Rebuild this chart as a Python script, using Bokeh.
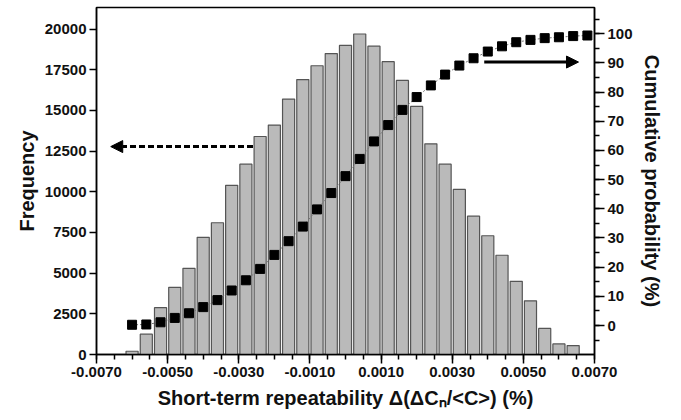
from bokeh.plotting import figure
from bokeh.models import (Range1d, LinearAxis, FixedTicker, Arrow, NormalHead,
                          NumeralTickFormatter)
from bokeh.embed import file_html
from bokeh.resources import INLINE

# Histogram bins (centre of each bin) and counts
bin_centers = [-0.0060, -0.0056, -0.0052, -0.0048, -0.0044, -0.0040, -0.0036, -0.0032,
               -0.0028, -0.0024, -0.0020, -0.0016, -0.0012, -0.0008, -0.0004, 0.0000,
               0.0004, 0.0008, 0.0012, 0.0016, 0.0020, 0.0024, 0.0028, 0.0032,
               0.0036, 0.0040, 0.0044, 0.0048, 0.0052, 0.0056, 0.0060, 0.0064]
frequency = [200, 1250, 2880, 4130, 5300, 7200, 8100, 10400,
             11700, 13400, 14100, 15700, 16900, 17750, 18500, 19000,
             19700, 18950, 18000, 16850, 15250, 12950, 11700, 10150,
             8500, 7300, 6100, 4500, 3300, 1600, 650, 550]

# Cumulative probability (%)
cum_x = [-0.0060, -0.0056, -0.0052, -0.0048, -0.0044, -0.0040, -0.0036, -0.0032,
         -0.0028, -0.0024, -0.0020, -0.0016, -0.0012, -0.0008, -0.0004, 0.0000,
         0.0004, 0.0008, 0.0012, 0.0016, 0.0020, 0.0024, 0.0028, 0.0032,
         0.0036, 0.0040, 0.0044, 0.0048, 0.0052, 0.0056, 0.0060, 0.0064, 0.0068]
cum_pct = [0.25, 0.35, 1.1, 2.6, 4.2, 6.3, 8.7, 12.0,
           15.5, 19.4, 24.2, 28.9, 33.9, 39.8, 45.4, 51.2,
           57.1, 63.1, 68.7, 73.9, 78.3, 82.3, 86.0, 89.1,
           91.6, 93.9, 95.7, 97.1, 97.9, 98.5, 98.8, 99.2, 99.4]

x_ticks = [-0.007, -0.005, -0.003, -0.001, 0.001, 0.003, 0.005, 0.007]
y_ticks = [0, 2500, 5000, 7500, 10000, 12500, 15000, 17500, 20000]
cum_ticks = [0, 10, 20, 30, 40, 50, 60, 70, 80, 90, 100]

FONT = "Liberation Sans"

p = figure(width=681, height=420, output_backend="svg", toolbar_location=None,
           x_range=Range1d(-0.007, 0.007), y_range=Range1d(0, 21330),
           min_border_left=96, min_border_right=87, min_border_top=7,
           min_border_bottom=66, background_fill_color="white",
           border_fill_color="white")
p.xgrid.visible = False
p.ygrid.visible = False
p.outline_line_color = "black"
p.outline_line_width = 1.5
p.outline_line_alpha = 1

p.extra_y_ranges = {"cum": Range1d(-9.94, 109.0)}

p.vbar(x=bin_centers, top=frequency, width=0.00034, bottom=0,
       fill_color="#bababa", line_color="#555555", line_width=1.2)

p.line(cum_x, cum_pct, y_range_name="cum", line_color="#777777",
       line_width=1, line_dash="2 2")
p.scatter(cum_x, cum_pct, y_range_name="cum", marker="square", size=9,
          fill_color="black", line_color="black")

# Arrows pointing to the relevant axes
p.add_layout(Arrow(x_start=-0.0026, y_start=12780, x_end=-0.0066, y_end=12780,
                   line_width=3, line_dash="6 3", line_color="black",
                   end=NormalHead(size=12, fill_color="black", line_color="black")))
p.add_layout(Arrow(x_start=0.0039, y_start=90.3, x_end=0.00655, y_end=90.3,
                   y_range_name="cum", line_width=3, line_color="black",
                   end=NormalHead(size=12, fill_color="black", line_color="black")))

def style(ax):
    ax.axis_line_color = "black"
    ax.axis_line_width = 1.5
    ax.major_tick_line_color = "black"
    ax.major_tick_line_width = 1.5
    ax.minor_tick_line_color = "black"
    ax.minor_tick_line_width = 1.5
    ax.major_tick_in = 0
    ax.minor_tick_in = 0
    ax.major_label_text_font = FONT
    ax.major_label_text_font_style = "bold"
    ax.major_label_text_font_size = "15px"
    ax.major_label_text_color = "#111111"
    ax.axis_label_text_font = FONT
    ax.axis_label_text_font_style = "bold"
    ax.axis_label_text_font_size = "20px"
    ax.axis_label_text_color = "#111111"

xa = p.xaxis[0]
style(xa)
xa.ticker = FixedTicker(ticks=x_ticks,
                        minor_ticks=[-0.007 + 0.0005 * i for i in range(29)])
xa.formatter = NumeralTickFormatter(format="0.0000")
xa.major_tick_out = 9
xa.minor_tick_out = 5
xa.major_label_standoff = 3
xa.axis_label = "Short-term repeatability \u0394(\u0394C\u2099/<C>) (%)"
xa.axis_label_standoff = 7

ya = p.yaxis[0]
style(ya)
ya.ticker = FixedTicker(ticks=y_ticks)
ya.major_tick_out = 7
ya.major_label_standoff = 3
ya.axis_label = "Frequency"
ya.axis_label_standoff = 4

ra = LinearAxis(y_range_name="cum", axis_label="Cumulative probability (%)")
style(ra)
ra.ticker = FixedTicker(ticks=cum_ticks,
                        minor_ticks=[-5 + 5 * i for i in range(23)])
ra.major_tick_out = 10
ra.minor_tick_out = 5
ra.major_label_standoff = 3
ra.axis_label_standoff = 5
p.add_layout(ra, "right")

open("out.html", "w").write(file_html(p, INLINE))
